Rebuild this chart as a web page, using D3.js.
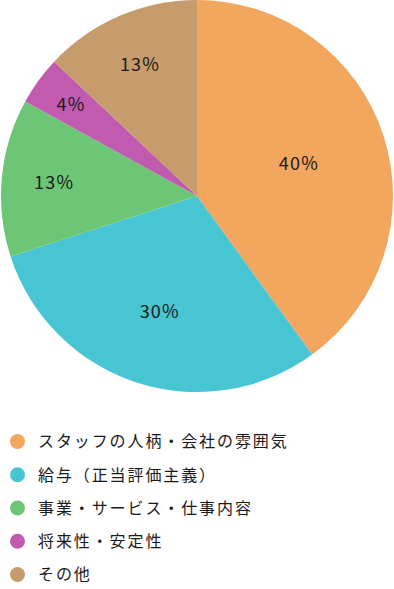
<!DOCTYPE html>
<html><head><meta charset="utf-8">
<script src="https://cdn.jsdelivr.net/npm/d3@7/dist/d3.min.js"></script>
<style>
html,body{margin:0;padding:0;background:#fff;}
svg{display:block;}
</style></head>
<body>
<script>
const categories = ["スタッフの人柄・会社の雰囲気","給与（正当評価主義）","事業・サービス・仕事内容","将来性・安定性","その他"];
const values = [40, 30, 13, 4, 13];
const labels = ["40%","30%","13%","4%","13%"];
const colors = ["#F2A65E","#47C5D3","#6CC676","#C15BAF","#C69C6D"];

const W = 394, H = 589;
const cx = 197, cy = 196, R = 196;
const font = "'Noto Sans CJK JP','Noto Sans',sans-serif";

const svg = d3.select("body").append("svg").attr("width", W).attr("height", H);
const g = svg.append("g").attr("transform", `translate(${cx},${cy})`);

const pie = d3.pie().value(d => d).sort(null);
const arcs = pie(values);
const arc = d3.arc().innerRadius(0).outerRadius(R);

g.selectAll("path.slice").data(arcs).enter().append("path")
  .attr("class","slice")
  .attr("d", arc)
  .attr("fill", (d,i) => colors[i]);

// label distance from centre depends on slice share (small slices pushed outward)
const total = d3.sum(values);
const labelR = d3.scaleLinear().domain([0, 1]).range([R*0.822, R*0.133]);
g.selectAll("text.lbl").data(arcs).enter().append("text")
  .attr("class","lbl")
  .attr("transform", d => {
    const r = labelR(d.value/total);
    const a = (d.startAngle + d.endAngle)/2;
    return `translate(${r*Math.sin(a)},${-r*Math.cos(a)})`;
  })
  .attr("text-anchor","middle")
  .attr("dy","0.38em")
  .attr("font-family", font)
  .attr("font-size", 18)
  .attr("letter-spacing", "1.2px")
  .attr("fill","#1a1a1a")
  .text((d,i) => labels[i]);

const legend = svg.append("g");
const ly = d3.scalePoint().domain(d3.range(categories.length)).range([441.5, 574.5]);
const items = legend.selectAll("g").data(categories).enter().append("g")
  .attr("transform", (d,i) => `translate(0,${ly(i)})`);
items.append("circle").attr("cx", 17.5).attr("cy", 0).attr("r", 7.5).attr("fill", (d,i) => colors[i]);
items.append("text").attr("x", 38).attr("dy","0.36em")
  .attr("font-family", font).attr("font-size", 16).attr("letter-spacing", "1.9px")
  .attr("fill","#1a1a1a").text(d => d);
</script>
</body></html>
